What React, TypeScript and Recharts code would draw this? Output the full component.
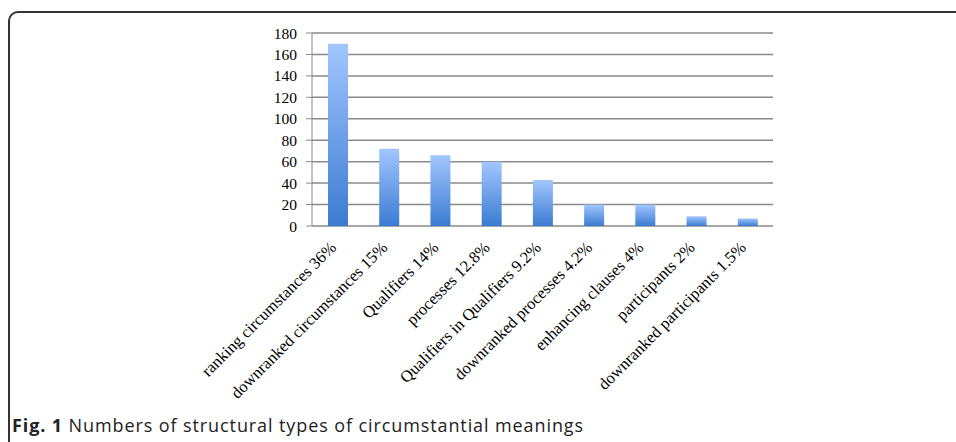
import React from 'react';
import { BarChart, Bar, XAxis, YAxis, CartesianGrid } from 'recharts';

const categories = [
  'ranking circumstances 36%',
  'downranked circumstances 15%',
  'Qualifiers 14%',
  'processes 12.8%',
  'Qualifiers in Qualifiers 9.2%',
  'downranked processes 4.2%',
  'enhancing clauses 4%',
  'participants 2%',
  'downranked participants 1.5%',
];
const counts = [170, 72, 66, 60, 43, 20, 20, 9, 7];
const yTicks = [0, 20, 40, 60, 80, 100, 120, 140, 160, 180];
const boundaryTicks = [0, 1, 2, 3, 4, 5, 6, 7, 8, 9];

const data = categories.map((name, i) => ({ name, value: counts[i] }));

const serif = '"Liberation Serif", "DejaVu Serif", serif';

function SlantedLabel(props: any) {
  const { x, y, payload } = props;
  return (
    <g transform={`translate(${x - 4},${y + 11})`}>
      <text
        x={0}
        y={0}
        dy={5}
        textAnchor="end"
        transform="rotate(-45)"
        fontFamily={serif}
        fontSize={16.5}
        fill="#000"
      >
        {payload.value}
      </text>
    </g>
  );
}

export default function App() {
  return (
    <div style={{ position: 'absolute', left: 0, top: 0, width: 956, height: 442, overflow: 'hidden', background: '#fff' }}>
      <div
        style={{
          position: 'absolute',
          left: 8,
          top: 11,
          width: 980,
          height: 470,
          border: '2px solid #333',
          borderTopLeftRadius: 10,
          boxSizing: 'border-box',
        }}
      />
      <div style={{ position: 'absolute', left: 0, top: 0 }}>
        <BarChart width={956} height={442} data={data} margin={{ top: 33, right: 183, bottom: 56, left: 252 }}>
          <defs>
            <linearGradient id="barFill" x1="0" y1="0" x2="0" y2="1">
              <stop offset="0%" stopColor="#a2c6ff" />
              <stop offset="100%" stopColor="#3b7bd2" />
            </linearGradient>
          </defs>
          <CartesianGrid vertical={false} stroke="#8a8a8a" strokeWidth={1.5} />
          <XAxis
            xAxisId="edges"
            type="number"
            domain={[0, 9]}
            ticks={boundaryTicks}
            height={0}
            tick={false}
            tickLine={{ stroke: '#8a8a8a' }}
            axisLine={{ stroke: '#8a8a8a' }}
            tickSize={6}
          />
          <XAxis
            xAxisId="cat"
            dataKey="name"
            interval={0}
            height={160}
            axisLine={false}
            tickLine={false}
            tick={<SlantedLabel />}
          />
          <YAxis
            domain={[0, 180]}
            ticks={yTicks}
            interval={0}
            width={60}
            axisLine={{ stroke: '#8a8a8a' }}
            tickLine={{ stroke: '#8a8a8a' }}
            tickSize={6}
            tickMargin={9}
            tick={{ fontFamily: serif, fontSize: 15.5, fill: '#000' }}
          />
          <Bar xAxisId="cat" dataKey="value" fill="url(#barFill)" barSize={20} isAnimationActive={false} />
        </BarChart>
      </div>
      <div
        style={{
          position: 'absolute',
          left: 12,
          top: 413,
          fontFamily: '"Open Sans", sans-serif',
          fontSize: 18,
          letterSpacing: 0.9,
          color: '#222',
          whiteSpace: 'nowrap',
        }}
      >
        <b>Fig. 1</b> Numbers of structural types of circumstantial meanings
      </div>
    </div>
  );
}
